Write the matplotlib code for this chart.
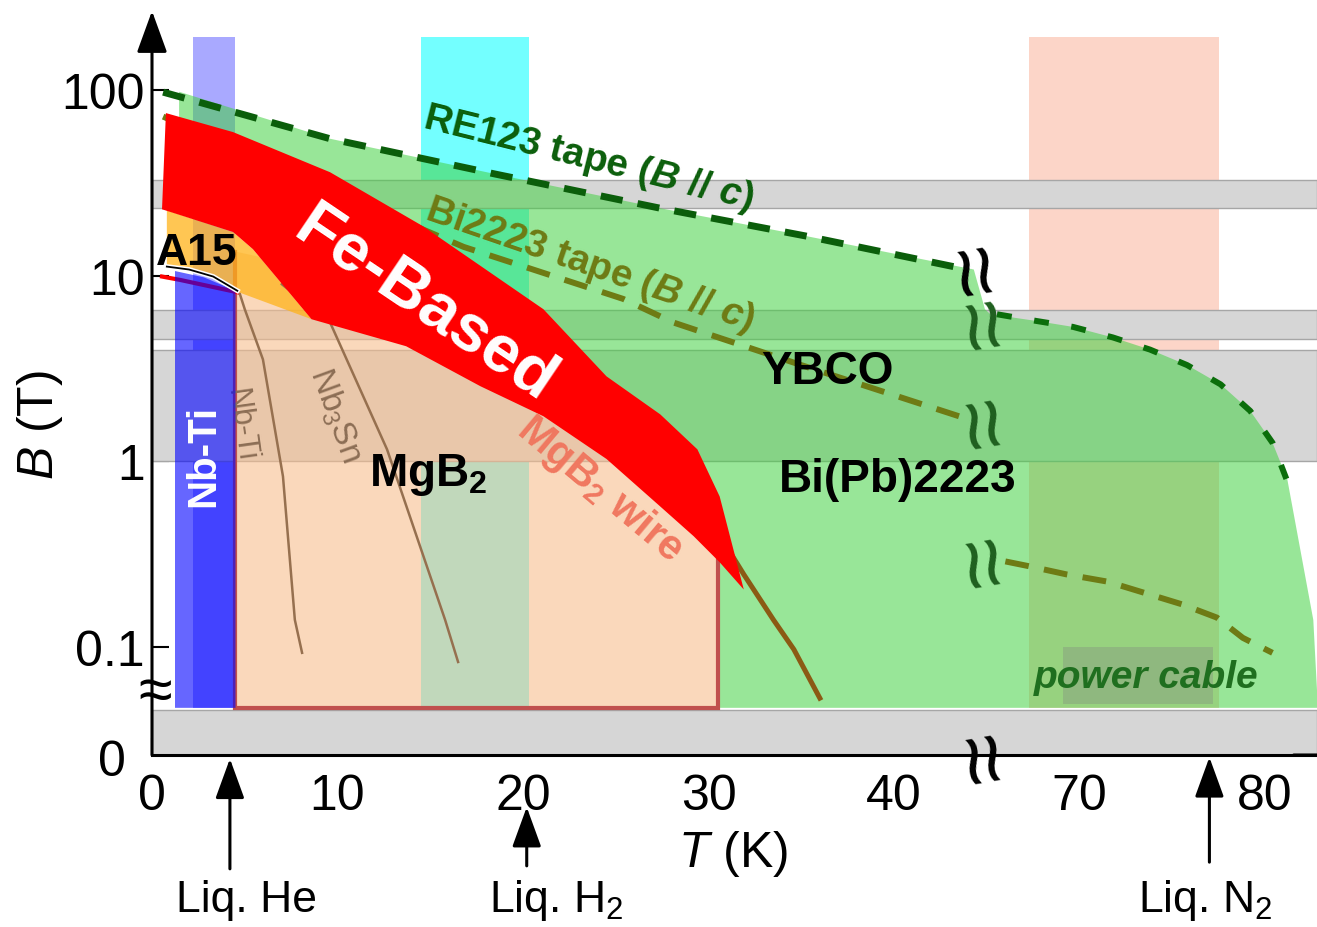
import numpy as np
import matplotlib
matplotlib.use('Agg')
import matplotlib.pyplot as plt

plt.rcParams['font.family'] = 'Liberation Sans'
plt.rcParams['mathtext.fontset'] = 'custom'
plt.rcParams['mathtext.rm'] = 'Liberation Sans'
plt.rcParams['mathtext.it'] = 'Liberation Sans:italic'
plt.rcParams['mathtext.bf'] = 'Liberation Sans:bold'
plt.rcParams['mathtext.bfit'] = 'Liberation Sans:italic:bold'

# ---- data (T in K, B in T) ----
x_ticks = [0, 10, 20, 30, 40, 70, 80]
x_ticklabels = ['0', '10', '20', '30', '40', '70', '80']
y_ticks = [0, 0.1, 1, 10, 100]
y_ticklabels = ['', '0.1', '1', '10', '100']   # the "0" is placed by hand below
zero_label = '0'

grey_bands = [(23.1, 32.7), (4.55, 6.5), (1.0, 4.0), (0.0, 0.045)]
liq_bands_T = [(2.2, 4.5), (14.5, 20.3), (67.3, 77.5)]
liq_bands_col = ['#5555ff', '#00ffff', '#fcd5c8']
liq_bands_alpha = [0.5, 0.55, 1.0]

ybco_T = [1.46, 9.6, 18.5, 27.4, 35.2, 44.3, 44.9, 65.2, 67.7, 69.65, 71.8, 73.8,
          75.8, 77.6, 79.2, 80.4, 81.2, 82.6, 82.85, 30.5, 30.5, 21.1, 9.6, 1.46]
ybco_B = [98, 54.7, 35.3, 23.1, 16.4, 10.8, 6.6, 6.2, 5.7, 5.3, 4.65, 4.0,
          3.3, 2.6, 1.87, 1.26, 0.8, 0.14, 0.047, 0.047, 0.4, 3.0, 20, 40]

re123_T = [0.6, 9.6, 18.5, 27.4, 35.2, 43.2]
re123_B = [97.5, 54.7, 35.3, 23.1, 16.4, 11.2]
re123_hi_T = [65.55, 67.7, 69.65, 71.8, 73.8, 75.8, 77.6, 79.2, 80.4, 81.2]
re123_hi_B = [6.2, 5.7, 5.3, 4.65, 4.0, 3.3, 2.6, 1.87, 1.26, 0.78]

bi2223_T = [0.6, 8.0, 16.8, 25.4, 28.1, 35.0, 43.5]
bi2223_B = [72, 34, 14.3, 7.5, 5.6, 3.3, 1.75]
bi2223_hi_T = [66.0, 67.3, 69.3, 71.5, 73.4, 75.5, 77.4, 78.8, 80.4]
bi2223_hi_B = [0.289, 0.272, 0.246, 0.225, 0.197, 0.17, 0.144, 0.112, 0.093]

fe_T = [0.75, 4.37, 9.6, 14.6, 21.1, 24.5, 27.4, 29.4, 30.6, 31.9,
        30.6, 29.2, 27.4, 24.5, 21.1, 17.7, 13.7, 8.6, 5.44, 4.37, 0.54]
fe_B = [75.2, 59.4, 36.1, 18.5, 6.6, 2.87, 1.79, 1.16, 0.647, 0.204,
        0.286, 0.395, 0.571, 1.03, 1.75, 2.54, 4.17, 5.83, 13.9, 17.2, 22.8]

a15_T = [0.8, 4.37, 5.44, 8.6, 4.6, 3.3, 0.8]
a15_B = [22.5, 17.2, 13.9, 5.83, 8.2, 9.9, 11.2]
a15_line_T = [0.8, 2.0, 3.3, 4.6]
a15_line_B = [11.2, 10.8, 9.9, 8.3]

nbti_T = [1.24, 2.8, 4.5, 4.5, 1.24]
nbti_B = [10.6, 9.8, 8.3, 0.047, 0.047]
red_line_T = [0.54, 1.5, 4.6]
red_line_B = [9.9, 9.5, 8.15]

mgb2_T = [4.5, 4.5, 6.0, 8.6, 13.7, 21.1, 27.4, 30.5, 30.5]
mgb2_B = [0.047, 13.5, 12.5, 7.0, 4.5, 2.5, 0.9, 0.4, 0.047]
mgb2_edge_T = [4.5, 4.5, 30.5, 30.5]
mgb2_edge_B = [13.5, 0.047, 0.047, 0.35]

nbti_curve_T = [4.74, 5.0, 5.98, 7.06, 7.7, 8.09]
nbti_curve_B = [7.95, 6.6, 3.54, 0.83, 0.14, 0.093]
nb3sn_curve_T = [7.0, 9.6, 12.67, 15.8, 16.5]
nb3sn_curve_B = [9.0, 5.6, 1.16, 0.14, 0.083]
mgb2_curve_T = [30.0, 31.9, 33.5, 34.6, 36.0]
mgb2_curve_B = [0.5, 0.246, 0.14, 0.097, 0.053]

cable_T = (69.1, 77.2)
cable_B = (0.049, 0.1)

liq_names = ['Liq. He', 'Liq. H$_2$', 'Liq. N$_2$']
liq_T = [4.2, 20.2, 77.0]
liq_text_T = [5.1, 21.8, 76.8]

# ---- broken axes as scales ----
BRK = 0.047
Y0 = -1.582
XMAX = 82.8
YMAX = 266.8
BAND_TOP = 193


def fwd_x(t):
    t = np.asarray(t, float)
    return np.where(t <= 45, t, np.where(t >= 65, t - 20, 45.0))


def inv_x(u):
    u = np.asarray(u, float)
    return np.where(u <= 45, u, u + 20)


def fwd_y(b):
    b = np.asarray(b, float)
    lo = np.log10(BRK)
    return np.where(b >= BRK, np.log10(np.maximum(b, BRK)), Y0 + (b / BRK) * (lo - Y0))


def inv_y(v):
    v = np.asarray(v, float)
    lo = np.log10(BRK)
    return np.where(v >= lo, 10.0 ** np.minimum(v, 10), (v - Y0) / (lo - Y0) * BRK)


fig = plt.figure(figsize=(13.17, 9.28), dpi=100)
ax = fig.add_axes([152 / 1317, 1 - 756 / 928, 1165 / 1317, 744 / 928])
ax.set_xscale('function', functions=(fwd_x, inv_x))
ax.set_yscale('function', functions=(fwd_y, inv_y))
ax.set_xlim(0, XMAX)
ax.set_ylim(0, YMAX)

# vertical coolant bands
for (t0, t1), c, a in zip(liq_bands_T, liq_bands_col, liq_bands_alpha):
    ax.fill_between([t0, t1], BRK, BAND_TOP, color=c, alpha=a, lw=0, zorder=1)

# grey field bands
for b0, b1 in grey_bands:
    ax.fill_between([0, XMAX], b0, b1, facecolor='#d6d6d6', edgecolor='#a6a6a6', lw=1, zorder=2)

ax.fill(ybco_T, ybco_B, color='#42d142', alpha=0.54, lw=0, zorder=3)
ax.fill_between(cable_T, cable_B[0], cable_B[1], color='#7f7f7f', alpha=0.3, lw=0, zorder=3.5)

ax.fill(mgb2_T, mgb2_B, color='#f8bd8c', alpha=0.59, lw=0, zorder=4)
ax.plot(mgb2_edge_T, mgb2_edge_B, color='#c0504d', lw=3, zorder=4.6, solid_joinstyle='miter')

ax.text(4.75, 1.58, 'Nb-Ti', color='#8c6e55', fontsize=22, rotation=-82,
        ha='center', va='center', rotation_mode='anchor', zorder=4.8)
ax.plot(red_line_T, red_line_B, color='#ff0000', lw=3, zorder=4.9)

ax.fill(a15_T, a15_B, color='#ffb31a', alpha=0.75, lw=0, zorder=5)
ax.fill(nbti_T, nbti_B, color='#0000ff', alpha=0.6, lw=0, zorder=6)
ax.plot(a15_line_T, a15_line_B, color='white', lw=3.5, zorder=6.4)
ax.plot(a15_line_T, a15_line_B, color='black', lw=1.3, zorder=6.5)

ax.plot(nbti_curve_T, nbti_curve_B, color='#96704f', lw=1.8, zorder=7)
ax.plot(nb3sn_curve_T, nb3sn_curve_B, color='#96704f', lw=1.8, zorder=7)
ax.plot(mgb2_curve_T, mgb2_curve_B, color='#8b5a14', lw=3.6, zorder=7)

ax.plot(bi2223_T, bi2223_B, color='#6e7b14', lw=4.3, ls=(0, (4.0, 2.6)), zorder=7.5)
ax.plot(bi2223_hi_T, bi2223_hi_B, color='#6e7b14', lw=4.3, ls=(0, (4.0, 2.6)), zorder=7.5)

ax.fill(fe_T, fe_B, color='#ff0000', lw=0, zorder=8)

ax.plot(re123_T, re123_B, color='#0b5e0b', lw=5, ls=(0, (3.2, 2.2)), zorder=9)
ax.plot(re123_hi_T, re123_hi_B, color='#0b6e0b', lw=4.3, ls=(0, (2.5, 3.8)), zorder=9)

# labels inside the plot
ax.text(14.7, 7.0, 'Fe-Based', color='white', fontsize=48, fontweight='bold', rotation=-34,
        ha='center', va='center', rotation_mode='anchor', zorder=10)
ax.text(2.4, 13.4, 'A15', fontsize=32, fontweight='bold', ha='center', va='center', zorder=10)
ax.text(2.75, 1.08, 'Nb-Ti', color='white', fontsize=29, fontweight='bold', rotation=90,
        ha='center', va='center', rotation_mode='anchor', zorder=10)
ax.text(9.9, 1.79, 'Nb$_3$Sn', color='#8c6e55', fontsize=24, rotation=-70,
        ha='center', va='center', rotation_mode='anchor', zorder=10)
ax.text(14.9, 0.86, r'MgB$_\mathbf{2}$', fontsize=33, fontweight='bold',
        ha='center', va='center', zorder=10)
ax.text(24.15, 0.71, r'MgB$_\mathbf{2}$ wire', color='#f07860', fontsize=30, fontweight='bold',
        rotation=-40, ha='center', va='center', rotation_mode='anchor', zorder=10)
ax.text(36.4, 3.06, 'YBCO', fontsize=33, fontweight='bold', ha='center', va='center', zorder=10)
ax.text(40.2, 0.8, 'Bi(Pb)2223', fontsize=33, fontweight='bold', ha='center', va='center', zorder=10)
ax.text(23.5, 43.5, r'RE123 tape ($\mathbfit{B}$ // $\mathbfit{c}$)', color='#0b5e0b', fontsize=28,
        fontweight='bold', rotation=-14, ha='center', va='center', rotation_mode='anchor', zorder=10)
ax.text(23.6, 11.5, r'Bi2223 tape ($\mathbfit{B}$ // $\mathbfit{c}$)', color='#6e7b14', fontsize=28,
        fontweight='bold', rotation=-19, ha='center', va='center', rotation_mode='anchor', zorder=10)
ax.text(73.6, 0.0685, 'power cable', color='#1f6f1f', fontsize=28, fontweight='bold',
        fontstyle='italic', ha='center', va='center', zorder=10)

# axis break marks
for t, b, c in [(44.6, 11.1, 'black'), (45.5, 5.7, '#1f5f1f'), (45.0, 1.68, '#1f5f1f'),
                (45.7, 0.30, '#1f5f1f'), (45.0, 0.0, 'black')]:
    ax.text(t, b, '\u2248', color=c, fontsize=66, rotation=100, ha='center', va='center',
            rotation_mode='anchor', zorder=11, clip_on=False)
ax.text(0.15, 0.056, '\u2248', fontsize=44, ha='center', va='center', zorder=11, clip_on=False)

# axes styling
ax.spines['top'].set_visible(False)
ax.spines['right'].set_visible(False)
ax.spines['left'].set_visible(False)
ax.spines['bottom'].set_linewidth(2.2)
ax.spines['bottom'].set_zorder(12)
ax.annotate('', xy=(0, 1), xytext=(0, 0), xycoords='axes fraction',
            arrowprops=dict(arrowstyle='-|>,head_length=0.55,head_width=0.2', lw=2.2,
                            color='black', mutation_scale=47, shrinkA=0, shrinkB=0),
            annotation_clip=False, zorder=12)
ax.annotate('', xy=(1.04, 0), xytext=(0.98, 0), xycoords='axes fraction',
            arrowprops=dict(arrowstyle='-|>,head_length=0.55,head_width=0.2', lw=2.2,
                            color='black', mutation_scale=47, shrinkA=0, shrinkB=0),
            annotation_clip=False, zorder=12)

ax.minorticks_off()
ax.set_xticks(x_ticks)
ax.set_xticklabels(x_ticklabels)
ax.set_yticks(y_ticks)
ax.set_yticklabels(y_ticklabels)
ax.tick_params(direction='in', length=12, width=1.5, labelsize=36)
ax.tick_params(axis='x', pad=13)
ax.tick_params(axis='y', pad=5)
ax.text(-0.034, -0.009, zero_label, fontsize=36, ha='center', va='center',
        transform=ax.transAxes)

ax.set_xlabel('$T$ (K)', fontsize=36)
ax.xaxis.label.set_va('center')
ax.xaxis.set_label_coords(0.499, -0.132)
ax.set_ylabel('$B$ (T)', fontsize=36)
ax.yaxis.label.set_va('center')
ax.yaxis.set_label_coords(-0.096, 0.445)

# liquid coolant arrows
tails = [-0.153, -0.149, -0.144]
tips = [-0.005, -0.070, -0.003]
for name, t, tt, y0, y1 in zip(liq_names, liq_T, liq_text_T, tails, tips):
    ax.annotate('', xy=(t, y1), xytext=(t, y0), xycoords=('data', 'axes fraction'),
                arrowprops=dict(arrowstyle='-|>,head_length=0.55,head_width=0.2', lw=2.2,
                                color='black', mutation_scale=45, shrinkA=0, shrinkB=0),
                annotation_clip=False)
    ax.text(tt, -0.194, name, fontsize=32, ha='center', va='center',
            transform=ax.get_xaxis_transform())

fig.savefig('out.png', dpi=100)
